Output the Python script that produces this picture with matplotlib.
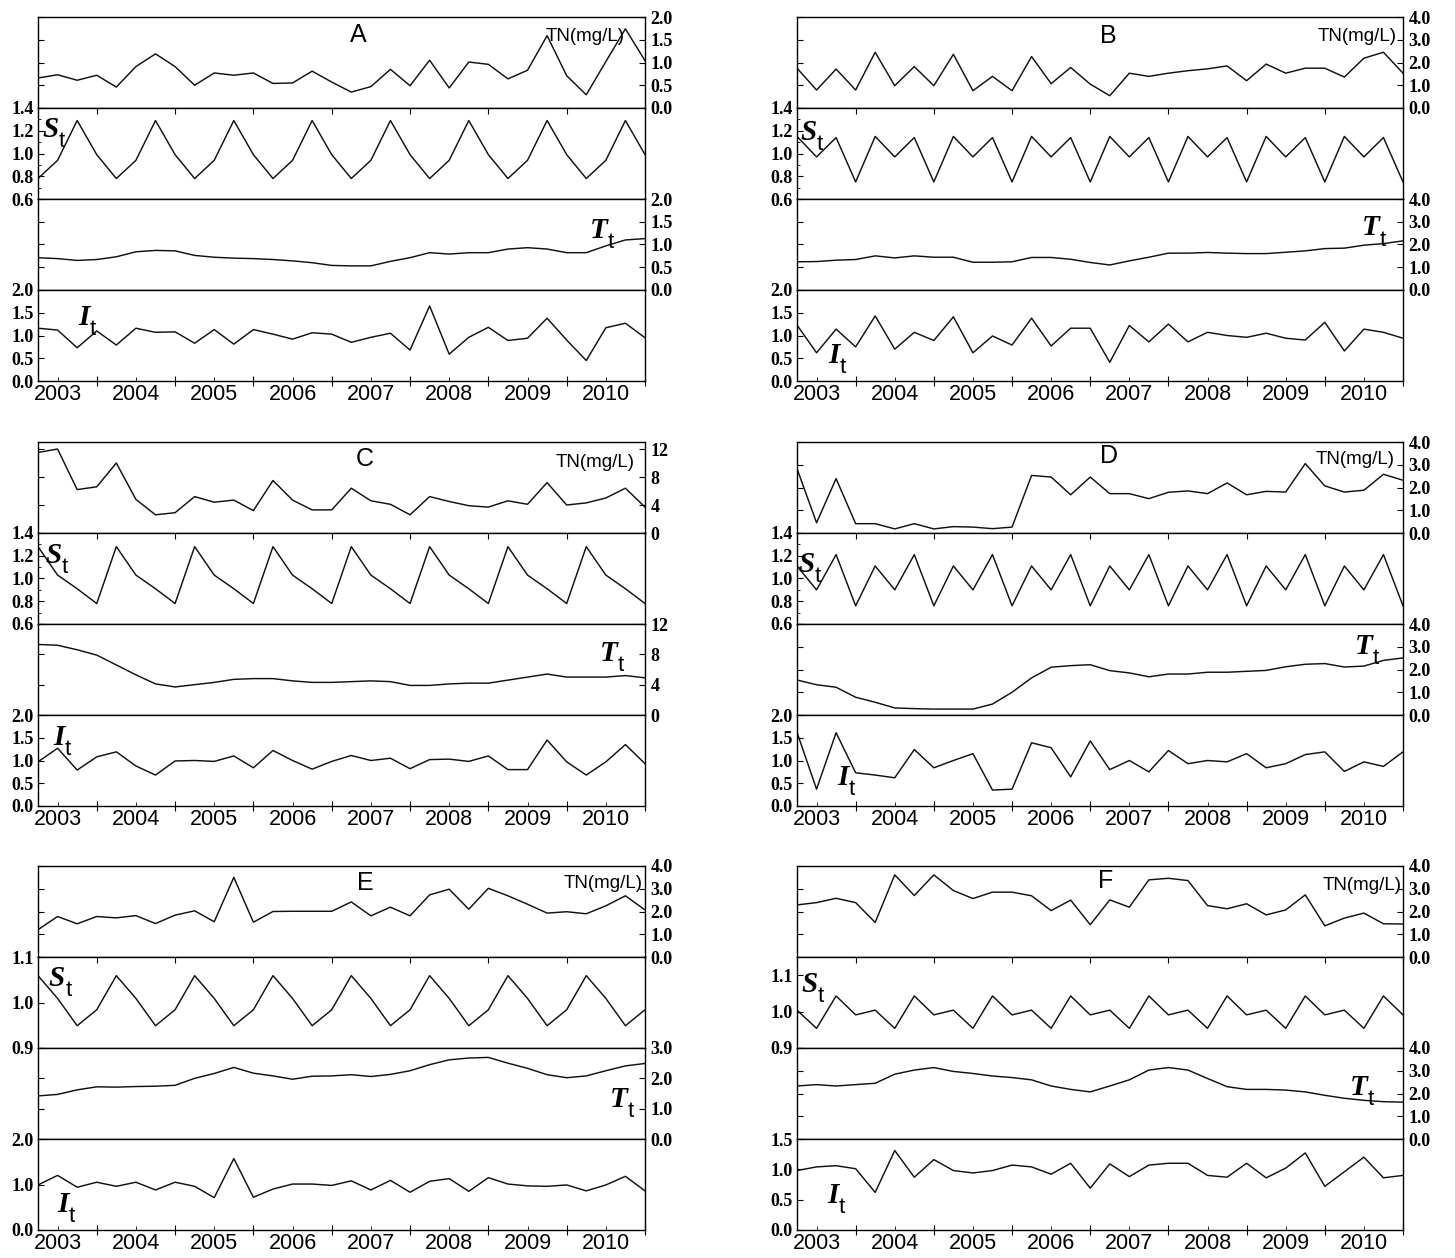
import matplotlib
matplotlib.use('Agg')
import matplotlib.pyplot as plt
from matplotlib.ticker import FormatStrFormatter, MultipleLocator
import numpy as np

# quarterly series 2003-2010, 32 points per series
quarters = np.arange(32)
years = ['2003', '2004', '2005', '2006', '2007', '2008', '2009', '2010']
year_pos = [1, 5, 9, 13, 17, 21, 25, 29]
split_pos = [3, 7, 11, 15, 19, 23, 27, 31]

A_tn = [0.66, 0.73, 0.61, 0.72, 0.46, 0.91, 1.19, 0.91, 0.50, 0.77, 0.72, 0.77, 0.54, 0.55, 0.81, 0.57,
        0.35, 0.47, 0.85, 0.49, 1.05, 0.44, 1.01, 0.96, 0.64, 0.83, 1.59, 0.71, 0.29, 1.02, 1.74, 1.04]
A_st = [0.78, 0.94, 1.29, 0.99, 0.78, 0.94, 1.29, 0.99, 0.78, 0.94, 1.29, 0.99, 0.78, 0.94, 1.29, 0.99,
        0.78, 0.94, 1.29, 0.99, 0.78, 0.94, 1.29, 0.99, 0.78, 0.94, 1.29, 0.99, 0.78, 0.94, 1.29, 0.99]
A_tt = [0.71, 0.69, 0.65, 0.67, 0.73, 0.84, 0.87, 0.86, 0.76, 0.72, 0.70, 0.69, 0.67, 0.64, 0.60, 0.54,
        0.53, 0.53, 0.63, 0.71, 0.82, 0.79, 0.82, 0.82, 0.90, 0.93, 0.90, 0.82, 0.82, 0.97, 1.10, 1.13]
A_it = [1.16, 1.12, 0.73, 1.10, 0.79, 1.16, 1.07, 1.08, 0.83, 1.13, 0.81, 1.13, 1.03, 0.92, 1.06, 1.03,
        0.85, 0.96, 1.05, 0.68, 1.65, 0.59, 0.96, 1.18, 0.89, 0.94, 1.38, 0.90, 0.45, 1.17, 1.27, 0.95]

B_tn = [1.75, 0.79, 1.71, 0.79, 2.45, 0.98, 1.82, 0.98, 2.36, 0.76, 1.39, 0.76, 2.26, 1.07, 1.78, 1.05,
        0.54, 1.53, 1.39, 1.53, 1.64, 1.72, 1.85, 1.20, 1.93, 1.53, 1.75, 1.75, 1.36, 2.19, 2.45, 1.53]
B_st = [1.15, 0.97, 1.14, 0.75, 1.15, 0.97, 1.14, 0.75, 1.15, 0.97, 1.14, 0.75, 1.15, 0.97, 1.14, 0.75,
        1.15, 0.97, 1.14, 0.75, 1.15, 0.97, 1.14, 0.75, 1.15, 0.97, 1.14, 0.75, 1.15, 0.97, 1.14, 0.75]
B_tt = [1.24, 1.25, 1.31, 1.34, 1.50, 1.41, 1.50, 1.44, 1.44, 1.22, 1.22, 1.24, 1.43, 1.43, 1.35, 1.21,
        1.10, 1.28, 1.44, 1.62, 1.62, 1.65, 1.62, 1.60, 1.60, 1.66, 1.72, 1.82, 1.84, 1.97, 2.04, 2.16]
B_it = [1.23, 0.62, 1.14, 0.75, 1.43, 0.70, 1.07, 0.89, 1.41, 0.62, 0.99, 0.79, 1.38, 0.77, 1.16, 1.16,
        0.41, 1.22, 0.86, 1.25, 0.86, 1.07, 1.00, 0.96, 1.05, 0.94, 0.90, 1.29, 0.66, 1.14, 1.07, 0.94]

C_tn = [11.5, 12.0, 6.2, 6.6, 10.0, 4.8, 2.6, 2.9, 5.2, 4.4, 4.7, 3.2, 7.5, 4.7, 3.3, 3.3,
        6.4, 4.6, 4.1, 2.6, 5.2, 4.5, 3.9, 3.7, 4.6, 4.1, 7.2, 4.0, 4.3, 5.0, 6.4, 3.7]
C_st = [1.28, 1.03, 0.91, 0.78, 1.28, 1.03, 0.91, 0.78, 1.28, 1.03, 0.91, 0.78, 1.28, 1.03, 0.91, 0.78,
        1.28, 1.03, 0.91, 0.78, 1.28, 1.03, 0.91, 0.78, 1.28, 1.03, 0.91, 0.78, 1.28, 1.03, 0.91, 0.78]
C_tt = [9.3, 9.2, 8.6, 7.9, 6.6, 5.3, 4.1, 3.7, 4.0, 4.3, 4.7, 4.8, 4.8, 4.5, 4.3, 4.3,
        4.4, 4.5, 4.4, 3.9, 3.9, 4.1, 4.2, 4.2, 4.6, 5.0, 5.4, 5.0, 5.0, 5.0, 5.2, 4.9]
C_it = [0.97, 1.27, 0.79, 1.08, 1.19, 0.88, 0.68, 0.99, 1.00, 0.98, 1.10, 0.84, 1.22, 1.00, 0.81, 0.98,
        1.11, 1.00, 1.05, 0.82, 1.02, 1.03, 0.98, 1.10, 0.80, 0.80, 1.45, 0.97, 0.68, 0.97, 1.35, 0.93]

D_tn = [2.83, 0.45, 2.39, 0.41, 0.41, 0.18, 0.41, 0.18, 0.28, 0.26, 0.19, 0.26, 2.53, 2.46, 1.68, 2.46,
        1.73, 1.73, 1.51, 1.79, 1.85, 1.73, 2.20, 1.68, 1.83, 1.80, 3.05, 2.07, 1.80, 1.88, 2.58, 2.32]
D_st = [1.11, 0.90, 1.21, 0.76, 1.11, 0.90, 1.21, 0.76, 1.11, 0.90, 1.21, 0.76, 1.11, 0.90, 1.21, 0.76,
        1.11, 0.90, 1.21, 0.76, 1.11, 0.90, 1.21, 0.76, 1.11, 0.90, 1.21, 0.76, 1.11, 0.90, 1.21, 0.76]
D_tt = [1.54, 1.33, 1.22, 0.78, 0.56, 0.31, 0.28, 0.26, 0.26, 0.26, 0.48, 1.00, 1.63, 2.10, 2.17, 2.21,
        1.95, 1.85, 1.68, 1.80, 1.80, 1.88, 1.88, 1.92, 1.96, 2.12, 2.23, 2.26, 2.11, 2.15, 2.40, 2.51]
D_it = [1.62, 0.37, 1.61, 0.73, 0.68, 0.62, 1.24, 0.84, 1.00, 1.15, 0.35, 0.37, 1.39, 1.28, 0.64, 1.43,
        0.80, 1.00, 0.75, 1.22, 0.93, 1.00, 0.97, 1.15, 0.84, 0.93, 1.13, 1.19, 0.76, 0.97, 0.87, 1.19]

E_tn = [1.20, 1.78, 1.46, 1.78, 1.72, 1.82, 1.47, 1.84, 2.03, 1.55, 3.50, 1.53, 2.00, 2.01, 2.01, 2.01,
        2.42, 1.81, 2.19, 1.81, 2.73, 2.98, 2.10, 3.02, 2.69, 2.32, 1.93, 1.99, 1.90, 2.25, 2.69, 2.07]
E_st = [1.059, 1.009, 0.949, 0.984, 1.059, 1.009, 0.949, 0.984, 1.059, 1.009, 0.949, 0.984,
        1.059, 1.009, 0.949, 0.984, 1.059, 1.009, 0.949, 0.984, 1.059, 1.009, 0.949, 0.984,
        1.059, 1.009, 0.949, 0.984, 1.059, 1.009, 0.949, 0.984]
E_tt = [1.42, 1.47, 1.62, 1.72, 1.71, 1.73, 1.74, 1.77, 2.00, 2.16, 2.36, 2.17, 2.08, 1.97, 2.07, 2.08,
        2.12, 2.06, 2.13, 2.25, 2.45, 2.61, 2.67, 2.69, 2.50, 2.33, 2.12, 2.02, 2.08, 2.25, 2.41, 2.49]
E_it = [0.99, 1.20, 0.94, 1.05, 0.96, 1.05, 0.88, 1.05, 0.96, 0.71, 1.57, 0.72, 0.90, 1.01, 1.01, 0.98,
        1.08, 0.88, 1.09, 0.83, 1.07, 1.13, 0.85, 1.15, 1.01, 0.97, 0.96, 0.99, 0.86, 0.99, 1.18, 0.86]

F_tn = [2.29, 2.39, 2.58, 2.39, 1.52, 3.61, 2.70, 3.61, 2.92, 2.57, 2.85, 2.85, 2.69, 2.04, 2.50, 1.42,
        2.51, 2.19, 3.39, 3.46, 3.36, 2.26, 2.12, 2.34, 1.85, 2.07, 2.73, 1.37, 1.71, 1.93, 1.46, 1.45]
F_st = [1.004, 0.954, 1.043, 0.991, 1.004, 0.954, 1.043, 0.991, 1.004, 0.954, 1.043, 0.991,
        1.004, 0.954, 1.043, 0.991, 1.004, 0.954, 1.043, 0.991, 1.004, 0.954, 1.043, 0.991,
        1.004, 0.954, 1.043, 0.991, 1.004, 0.954, 1.043, 0.991]
F_tt = [2.33, 2.39, 2.33, 2.39, 2.45, 2.85, 3.03, 3.14, 2.97, 2.88, 2.77, 2.70, 2.60, 2.33, 2.18, 2.07,
        2.33, 2.60, 3.03, 3.14, 3.03, 2.66, 2.30, 2.18, 2.18, 2.15, 2.07, 1.92, 1.79, 1.70, 1.64, 1.62]
F_it = [0.98, 1.04, 1.06, 1.01, 0.62, 1.31, 0.87, 1.16, 0.98, 0.94, 0.98, 1.07, 1.04, 0.92, 1.10, 0.69,
        1.09, 0.88, 1.07, 1.10, 1.10, 0.90, 0.87, 1.10, 0.86, 1.02, 1.27, 0.72, 0.96, 1.20, 0.86, 0.90]

st_wide = [0.6, 0.8, 1.0, 1.2, 1.4]
half = [0.0, 0.5, 1.0, 1.5, 2.0]
ones4 = [0, 1, 2, 3, 4]

panels = [
    dict(letter='A', data=(A_tn, A_st, A_tt, A_it), x=(38, 645), top=17,
         lims=[(0, 2), (0.6, 1.4), (0, 2), (0, 2)], ticks=[half, st_wide, half, half],
         fmts=['%.1f'] * 4, st_minor=0.1,
         letter_pos=(0.527, 0.80), tn_pos=(0.967, 0.79),
         s_pos=(0.008, 0.68), t_pos=(0.909, 0.57), i_pos=(0.066, 0.62)),
    dict(letter='B', data=(B_tn, B_st, B_tt, B_it), x=(797, 1403), top=17,
         lims=[(0, 4), (0.6, 1.4), (0, 4), (0, 2)], ticks=[ones4, st_wide, ones4, half],
         fmts=['%.1f'] * 4, st_minor=0.1,
         letter_pos=(0.513, 0.79), tn_pos=(0.99, 0.79),
         s_pos=(0.005, 0.65), t_pos=(0.932, 0.60), i_pos=(0.051, 0.20)),
    dict(letter='C', data=(C_tn, C_st, C_tt, C_it), x=(38, 645), top=442,
         lims=[(0, 13), (0.6, 1.4), (0, 12), (0, 2)], ticks=[[0, 4, 8, 12], st_wide, [0, 4, 8, 12], half],
         fmts=['%d', '%.1f', '%d', '%.1f'], st_minor=0.1,
         letter_pos=(0.539, 0.81), tn_pos=(0.983, 0.78),
         s_pos=(0.012, 0.67), t_pos=(0.926, 0.59), i_pos=(0.025, 0.67)),
    dict(letter='D', data=(D_tn, D_st, D_tt, D_it), x=(797, 1403), top=442,
         lims=[(0, 4), (0.6, 1.4), (0, 4), (0, 2)], ticks=[ones4, st_wide, ones4, half],
         fmts=['%.1f'] * 4, st_minor=0.1,
         letter_pos=(0.515, 0.85), tn_pos=(0.987, 0.81),
         s_pos=(0.002, 0.57), t_pos=(0.921, 0.67), i_pos=(0.066, 0.23)),
    dict(letter='E', data=(E_tn, E_st, E_tt, E_it), x=(38, 645), top=866,
         lims=[(0, 4), (0.9, 1.1), (0, 3), (0, 2)], ticks=[ones4, [0.9, 1.0, 1.1], [0, 1, 2, 3], [0, 1, 2]],
         fmts=['%.1f'] * 4, st_minor=None,
         letter_pos=(0.539, 0.81), tn_pos=(0.996, 0.81),
         s_pos=(0.018, 0.68), t_pos=(0.942, 0.35), i_pos=(0.031, 0.20)),
    dict(letter='F', data=(F_tn, F_st, F_tt, F_it), x=(797, 1403), top=866,
         lims=[(0, 4), (0.9, 1.15), (0, 4), (0, 1.5)], ticks=[ones4, [0.9, 1.0, 1.1], ones4, [0, 0.5, 1.0, 1.5]],
         fmts=['%.1f'] * 4, st_minor=None,
         letter_pos=(0.51, 0.84), tn_pos=(0.998, 0.79),
         s_pos=(0.008, 0.62), t_pos=(0.913, 0.48), i_pos=(0.05, 0.30)),
]

plt.rcParams['font.family'] = 'Liberation Serif'
plt.rcParams['font.weight'] = 'bold'
plt.rcParams['axes.linewidth'] = 1.0

W, H = 1455, 1258
SUB_H = 91
fig = plt.figure(figsize=(W / 100, H / 100), dpi=100)


def sub_label(ax, pos, letter):
    t = ax.text(pos[0], pos[1], letter, transform=ax.transAxes, fontfamily='Liberation Serif',
                fontweight='bold', fontstyle='italic', fontsize=21, va='baseline', ha='left')
    ax.annotate('t', xy=(1, 0), xycoords=t, xytext=(0, -3), textcoords='offset points',
                fontfamily='Liberation Sans', fontweight='normal', fontsize=16, va='baseline', ha='left')


for p in panels:
    x0, x1 = p['x']
    axes = []
    for k in range(4):
        y0 = p['top'] + SUB_H * k
        ax = fig.add_axes([x0 / W, 1 - (y0 + SUB_H) / H, (x1 - x0) / W, SUB_H / H])
        ax.plot(quarters, p['data'][k], color='#111111', lw=1.05)
        ax.set_xlim(0, 31)
        ax.set_ylim(*p['lims'][k])
        ax.set_yticks(p['ticks'][k])
        ax.yaxis.set_major_formatter(FormatStrFormatter(p['fmts'][k]))
        if k in (0, 2):
            ax.tick_params(axis='y', which='both', direction='in', left=True, right=True,
                           labelleft=False, labelright=True, length=4.5, pad=4, labelsize=13)
        else:
            ax.tick_params(axis='y', which='both', direction='in', left=True, right=False,
                           labelleft=True, labelright=False, length=4.5, pad=3, labelsize=13)
            ax.tick_params(axis='y', which='minor', length=2.5)
        if k == 1 and p['st_minor']:
            ax.yaxis.set_minor_locator(MultipleLocator(p['st_minor']))
        # x ticks
        ax.set_xticks(split_pos)
        if k == 1:
            ax.tick_params(axis='x', which='major', top=True, bottom=False, direction='in',
                           length=4, labelbottom=False)
        elif k == 3:
            ax.set_xticks(year_pos, labels=years, minor=True, fontfamily='Liberation Sans',
                          fontweight='normal', fontsize=15.5)
            ax.tick_params(axis='x', which='major', direction='inout', length=7, labelbottom=False)
            ax.tick_params(axis='x', which='minor', direction='in', length=3, pad=2)
        else:
            ax.tick_params(axis='x', which='both', bottom=False, top=False, labelbottom=False)
        axes.append(ax)

    ax_tn, ax_st, ax_tt, ax_it = axes
    ax_tn.text(*p['letter_pos'], p['letter'], transform=ax_tn.transAxes, fontfamily='Liberation Sans',
               fontweight='normal', fontsize=18, ha='center', va='center')
    ax_tn.text(*p['tn_pos'], 'TN(mg/L)', transform=ax_tn.transAxes, fontfamily='Liberation Sans',
               fontweight='normal', fontsize=13.5, ha='right', va='center')
    sub_label(ax_st, p['s_pos'], 'S')
    sub_label(ax_tt, p['t_pos'], 'T')
    sub_label(ax_it, p['i_pos'], 'I')

fig.savefig('out.png', dpi=100)
